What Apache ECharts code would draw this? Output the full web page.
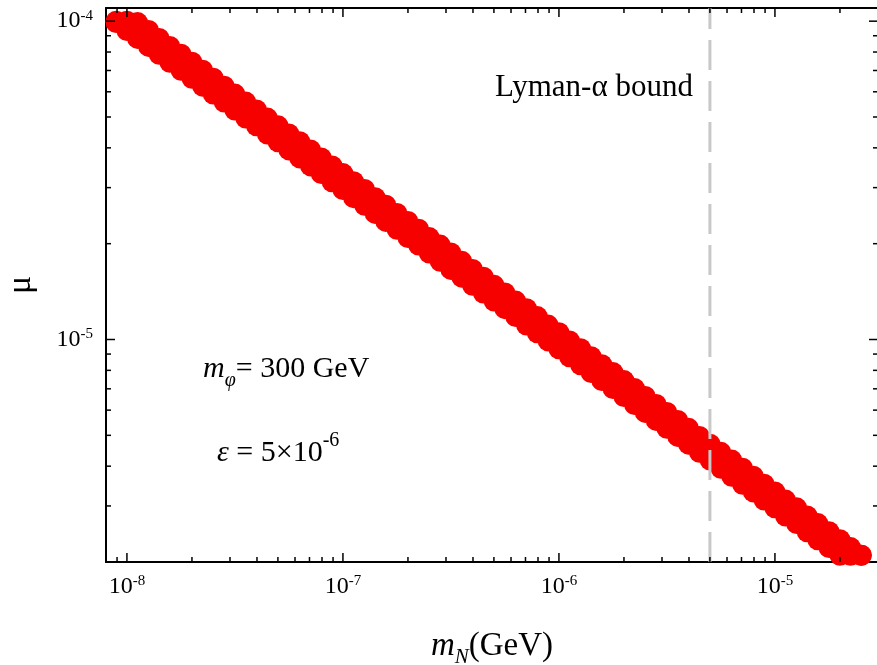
<!DOCTYPE html>
<html>
<head>
<meta charset="utf-8">
<script src="https://cdn.jsdelivr.net/npm/echarts@6/dist/echarts.min.js"></script>
<style>
  html, body { margin: 0; padding: 0; background: #fff; }
  #main { width: 877px; height: 665px; }
</style>
</head>
<body>
<div id="main"></div>
<script>
// m_N (GeV) sampled along the band
var mN = [
  8.91e-9,
  1.00e-8, 1.12e-8, 1.26e-8, 1.41e-8, 1.58e-8, 1.78e-8, 2.00e-8, 2.24e-8, 2.51e-8, 2.82e-8,
  3.16e-8, 3.55e-8, 3.98e-8, 4.47e-8, 5.01e-8, 5.62e-8, 6.31e-8, 7.08e-8, 7.94e-8, 8.91e-8,
  1.00e-7, 1.12e-7, 1.26e-7, 1.41e-7, 1.58e-7, 1.78e-7, 2.00e-7, 2.24e-7, 2.51e-7, 2.82e-7,
  3.16e-7, 3.55e-7, 3.98e-7, 4.47e-7, 5.01e-7, 5.62e-7, 6.31e-7, 7.08e-7, 7.94e-7, 8.91e-7,
  1.00e-6, 1.12e-6, 1.26e-6, 1.41e-6, 1.58e-6, 1.78e-6, 2.00e-6, 2.24e-6, 2.51e-6, 2.82e-6,
  3.16e-6, 3.55e-6, 3.98e-6, 4.47e-6, 5.01e-6, 5.62e-6, 6.31e-6, 7.08e-6, 7.94e-6, 8.91e-6,
  1.00e-5, 1.12e-5, 1.26e-5, 1.41e-5, 1.58e-5, 1.78e-5, 2.00e-5, 2.24e-5, 2.51e-5
];
// upper edge of the band (mu)
var muUpper = [
  1.00e-4, 1.00e-4,
  9.90e-5, 9.35e-5, 8.83e-5, 8.33e-5, 7.87e-5, 7.43e-5, 7.01e-5, 6.62e-5, 6.25e-5, 5.90e-5,
  5.57e-5, 5.26e-5, 4.96e-5, 4.69e-5, 4.42e-5, 4.18e-5, 3.94e-5, 3.72e-5, 3.51e-5, 3.32e-5,
  3.13e-5, 2.96e-5, 2.79e-5, 2.64e-5, 2.49e-5, 2.35e-5, 2.22e-5, 2.09e-5, 1.98e-5, 1.87e-5,
  1.76e-5, 1.66e-5, 1.57e-5, 1.48e-5, 1.40e-5, 1.32e-5, 1.25e-5, 1.18e-5, 1.11e-5, 1.05e-5,
  9.90e-6, 9.35e-6, 8.83e-6, 8.33e-6, 7.87e-6, 7.43e-6, 7.01e-6, 6.62e-6, 6.25e-6, 5.90e-6,
  5.57e-6, 5.26e-6, 4.96e-6, 4.69e-6, 4.42e-6, 4.18e-6, 3.94e-6, 3.72e-6, 3.51e-6, 3.32e-6,
  3.13e-6, 2.96e-6, 2.79e-6, 2.64e-6, 2.49e-6, 2.35e-6, 2.22e-6, 2.10e-6
];
// lower edge of the band (mu)
var muLower = [
  9.90e-5, 9.35e-5, 8.83e-5, 8.33e-5, 7.87e-5, 7.43e-5, 7.01e-5, 6.62e-5, 6.25e-5, 5.90e-5,
  5.57e-5, 5.26e-5, 4.96e-5, 4.69e-5, 4.42e-5, 4.18e-5, 3.94e-5, 3.72e-5, 3.51e-5, 3.32e-5,
  3.13e-5, 2.96e-5, 2.79e-5, 2.64e-5, 2.49e-5, 2.35e-5, 2.22e-5, 2.09e-5, 1.98e-5, 1.87e-5,
  1.76e-5, 1.66e-5, 1.57e-5, 1.48e-5, 1.40e-5, 1.32e-5, 1.25e-5, 1.18e-5, 1.11e-5, 1.05e-5,
  9.90e-6, 9.35e-6, 8.83e-6, 8.33e-6, 7.87e-6, 7.43e-6, 7.01e-6, 6.62e-6, 6.25e-6, 5.90e-6,
  5.57e-6, 5.26e-6, 4.96e-6, 4.69e-6, 4.42e-6, 4.18e-6, 3.94e-6, 3.72e-6, 3.51e-6, 3.32e-6,
  3.13e-6, 2.96e-6, 2.79e-6, 2.64e-6, 2.49e-6, 2.35e-6, 2.22e-6, 2.10e-6, 2.10e-6, 2.10e-6
];
var lymanBound = 5e-6;

var X_MIN = 8e-9, X_MAX = 3e-5;
var Y_MIN = 2e-6, Y_MAX = 1.1e-4;

var xMajorTicks = [1e-8, 1e-7, 1e-6, 1e-5];
var xMinorTicks = [9e-9,
  2e-8, 3e-8, 4e-8, 5e-8, 6e-8, 7e-8, 8e-8, 9e-8,
  2e-7, 3e-7, 4e-7, 5e-7, 6e-7, 7e-7, 8e-7, 9e-7,
  2e-6, 3e-6, 4e-6, 5e-6, 6e-6, 7e-6, 8e-6, 9e-6,
  2e-5];
var yMajorTicks = [1e-5, 1e-4];
var yMinorTicks = [3e-6, 4e-6, 5e-6, 6e-6, 7e-6, 8e-6, 9e-6,
  2e-5, 3e-5, 4e-5, 5e-5, 6e-5, 7e-5, 8e-5, 9e-5];

var SERIF = '"Liberation Serif", "DejaVu Serif", serif';
var RED = 'rgb(246,0,0)';

var chart = echarts.init(document.getElementById('main'));

// power-of-ten label, blank for the axis ends
function expLabel(value) {
  var e = Math.log10(value);
  if (Math.abs(e - Math.round(e)) > 1e-6) return '';
  return '{b|10}{s|' + Math.round(e) + '}';
}
var labelRich = {
  b: { fontSize: 24, lineHeight: 26, fontFamily: SERIF, color: '#000' },
  s: { fontSize: 15, lineHeight: 15, fontFamily: SERIF, color: '#000', verticalAlign: 'top' }
};

function xTick(params, api) {
  var v = api.value(0), len = api.value(2);
  var b = api.coord([v, Y_MIN]), t = api.coord([v, Y_MAX]);
  var st = { stroke: '#000', lineWidth: 1.5 };
  return { type: 'group', children: [
    { type: 'line', shape: { x1: b[0], y1: b[1], x2: b[0], y2: b[1] - len }, style: st },
    { type: 'line', shape: { x1: t[0], y1: t[1], x2: t[0], y2: t[1] + len }, style: st }
  ]};
}
function yTick(params, api) {
  var v = api.value(1), len = api.value(2);
  var l = api.coord([X_MIN, v]), r = api.coord([X_MAX, v]);
  var st = { stroke: '#000', lineWidth: 1.5 };
  return { type: 'group', children: [
    { type: 'line', shape: { x1: l[0], y1: l[1], x2: l[0] + len, y2: l[1] }, style: st },
    { type: 'line', shape: { x1: r[0], y1: r[1], x2: r[0] - len, y2: r[1] }, style: st }
  ]};
}

var bandData = [];
for (var i = 0; i < mN.length; i++) {
  bandData.push([mN[i], muUpper[i]]);
  bandData.push([mN[i], muLower[i]]);
}
var xTickData = xMajorTicks.map(function (v) { return [v, Y_MIN, 9]; })
  .concat(xMinorTicks.map(function (v) { return [v, Y_MIN, 5]; }));
var yTickData = yMajorTicks.map(function (v) { return [X_MIN, v, 9]; })
  .concat(yMinorTicks.map(function (v) { return [X_MIN, v, 5]; }));

var axisLine = { show: true, lineStyle: { color: '#000', width: 2 } };

var option = {
  animation: false,
  backgroundColor: '#fff',
  grid: { left: 106, top: 8, width: 772, height: 554, containLabel: false, outerBoundsMode: 'none' },
  xAxis: [{
    type: 'log', logBase: 10, min: X_MIN, max: X_MAX, position: 'bottom',
    axisLine: axisLine, axisTick: { show: false }, splitLine: { show: false },
    axisLabel: { formatter: expLabel, rich: labelRich, margin: 12, interval: 0 },
    name: '{i|m}{sub|N}{n|(GeV)}', nameLocation: 'middle', nameGap: 62,
    nameTextStyle: { rich: {
      i: { fontSize: 33, lineHeight: 44, fontFamily: SERIF, fontStyle: 'italic', color: '#000' },
      sub: { fontSize: 21, lineHeight: 22, fontFamily: SERIF, fontStyle: 'italic', color: '#000', verticalAlign: 'bottom' },
      n: { fontSize: 33, lineHeight: 44, fontFamily: SERIF, color: '#000' }
    }}
  }, {
    type: 'log', logBase: 10, min: X_MIN, max: X_MAX, position: 'top',
    axisLine: axisLine, axisTick: { show: false }, axisLabel: { show: false }, splitLine: { show: false }
  }],
  yAxis: [{
    type: 'log', logBase: 10, min: Y_MIN, max: Y_MAX, position: 'left',
    axisLine: axisLine, axisTick: { show: false }, splitLine: { show: false },
    axisLabel: { formatter: expLabel, rich: labelRich, margin: 13, interval: 0 },
    name: 'μ', nameLocation: 'middle', nameGap: 68,
    nameTextStyle: { fontSize: 34, lineHeight: 34, fontFamily: SERIF, color: '#000' }
  }, {
    type: 'log', logBase: 10, min: Y_MIN, max: Y_MAX, position: 'right',
    axisLine: axisLine, axisTick: { show: false }, axisLabel: { show: false }, splitLine: { show: false }
  }],
  series: [{
    type: 'scatter',
    data: bandData,
    symbol: 'circle',
    symbolSize: 21,
    itemStyle: { color: RED, opacity: 1 },
    z: 2
  }, {
    // Lyman-alpha bound, vertical dashed line
    type: 'line',
    data: [[lymanBound, Y_MIN], [lymanBound, Y_MAX]],
    symbol: 'none', silent: true, z: 3,
    lineStyle: { color: '#c8c8c8', width: 3, type: [30, 11] }
  }, {
    type: 'custom', renderItem: xTick, data: xTickData,
    encode: { x: 0, y: 1 }, clip: false, silent: true, z: 5
  }, {
    type: 'custom', renderItem: yTick, data: yTickData,
    encode: { x: 0, y: 1 }, clip: false, silent: true, z: 5
  }],
  graphic: [{
    type: 'text', x: 495, y: 88,
    style: { text: 'Lyman-α bound', font: '31px ' + SERIF, fill: '#000', verticalAlign: 'middle' }
  }, {
    type: 'text', x: 203, y: 369,
    style: {
      text: '{i|m}{sub|φ}{n|= 300 GeV}', verticalAlign: 'middle', fill: '#000',
      rich: {
        i: { fontSize: 30, lineHeight: 44, fontFamily: SERIF, fontStyle: 'italic' },
        sub: { fontSize: 20, lineHeight: 22, fontFamily: SERIF, fontStyle: 'italic', verticalAlign: 'bottom' },
        n: { fontSize: 30, lineHeight: 44, fontFamily: SERIF }
      }
    }
  }, {
    type: 'text', x: 217, y: 453,
    style: {
      text: '{i|ε}{n| = 5×10}{sup|-6}', verticalAlign: 'middle', fill: '#000',
      rich: {
        i: { fontSize: 30, lineHeight: 44, fontFamily: SERIF, fontStyle: 'italic' },
        n: { fontSize: 30, lineHeight: 44, fontFamily: SERIF },
        sup: { fontSize: 20, lineHeight: 22, fontFamily: SERIF, verticalAlign: 'top' }
      }
    }
  }]
};
chart.setOption(option);
</script>
</body>
</html>
